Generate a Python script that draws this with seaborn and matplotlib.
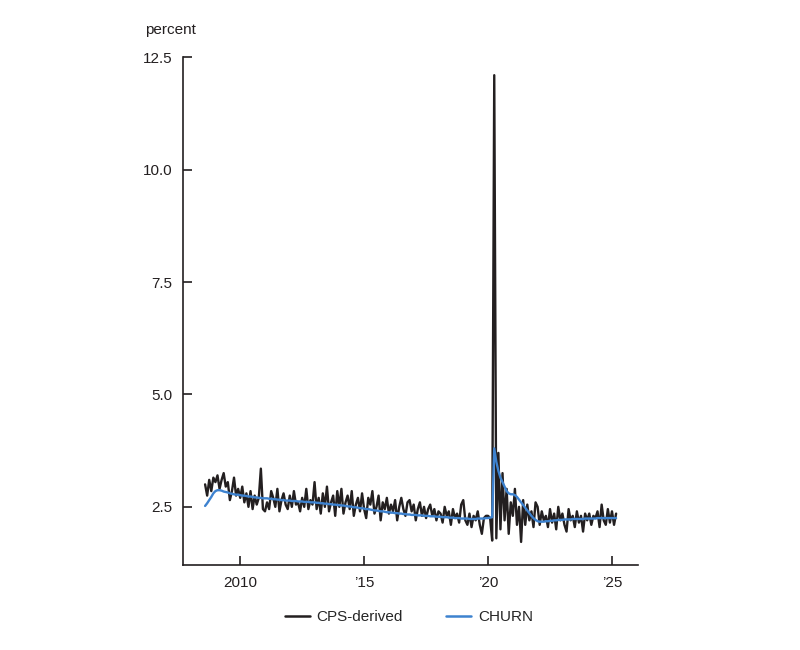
"""
Monthly separation rate: CPS-derived vs CHURN, 2008-2025.
"""

import matplotlib.pyplot as plt
import numpy as np
import pandas as pd
import seaborn as sns

# --- Data (monthly, Aug 2008 - Mar 2025) ---

START_YEAR, START_MONTH = 2008, 8

CPS_DERIVED = [
    # 2008 Aug-Dec
    3.0, 2.75, 3.1, 2.85, 3.15,
    # 2009
    3.05, 3.2, 2.9, 3.1, 3.25, 2.95, 3.05, 2.65, 2.85, 3.15, 2.75, 2.9,
    # 2010
    2.7, 2.95, 2.6, 2.8, 2.5, 2.85, 2.45, 2.75, 2.55, 2.7, 3.35, 2.45,
    # 2011
    2.4, 2.6, 2.45, 2.85, 2.7, 2.5, 2.9, 2.4, 2.65, 2.8, 2.55, 2.45,
    # 2012
    2.75, 2.5, 2.85, 2.55, 2.6, 2.4, 2.7, 2.5, 2.9, 2.45, 2.65, 2.55,
    # 2013
    3.05, 2.45, 2.7, 2.35, 2.8, 2.5, 2.95, 2.4, 2.6, 2.75, 2.3, 2.85,
    # 2014
    2.5, 2.9, 2.35, 2.6, 2.75, 2.45, 2.85, 2.3, 2.55, 2.7, 2.4, 2.8,
    # 2015
    2.45, 2.25, 2.7, 2.55, 2.85, 2.35, 2.5, 2.75, 2.2, 2.6, 2.45, 2.7,
    # 2016
    2.35, 2.55, 2.4, 2.65, 2.2, 2.5, 2.7, 2.45, 2.3, 2.6, 2.65, 2.4,
    # 2017
    2.55, 2.2, 2.45, 2.6, 2.3, 2.5, 2.25, 2.45, 2.55, 2.3, 2.45, 2.2,
    # 2018
    2.4, 2.35, 2.15, 2.5, 2.3, 2.4, 2.1, 2.45, 2.25, 2.35, 2.15, 2.55,
    # 2019
    2.65, 2.2, 2.1, 2.35, 2.05, 2.3, 2.2, 2.4, 2.1, 1.9, 2.25, 2.3,
    # 2020
    2.3, 2.25, 1.75, 12.1, 1.8, 3.7, 2.0, 3.25, 2.2, 2.9, 1.9, 2.6,
    # 2021
    2.3, 2.9, 2.1, 2.5, 1.72, 2.65, 2.1, 2.55, 2.2, 2.4, 2.05, 2.6,
    # 2022
    2.5, 2.1, 2.4, 2.2, 2.3, 2.05, 2.45, 2.15, 2.35, 2.0, 2.5, 2.2,
    # 2023
    2.35, 2.1, 1.95, 2.45, 2.2, 2.3, 2.05, 2.4, 2.15, 2.3, 1.95, 2.35,
    # 2024
    2.2, 2.35, 2.1, 2.3, 2.25, 2.4, 2.05, 2.55, 2.2, 2.1, 2.45, 2.15,
    # 2025 Jan-Mar
    2.4, 2.1, 2.35,
]

CHURN = [
    # 2008 Aug-Dec
    2.52, 2.58, 2.65, 2.72, 2.8,
    # 2009
    2.85, 2.87, 2.87, 2.86, 2.84, 2.83, 2.82, 2.8, 2.79, 2.78, 2.77, 2.77,
    # 2010
    2.76, 2.75, 2.75, 2.74, 2.73, 2.73, 2.72, 2.71, 2.71, 2.70, 2.70, 2.69,
    # 2011
    2.69, 2.69, 2.68, 2.68, 2.67, 2.67, 2.66, 2.66, 2.65, 2.65, 2.64, 2.64,
    # 2012
    2.64, 2.63, 2.63, 2.63, 2.62, 2.62, 2.62, 2.61, 2.61, 2.61, 2.60, 2.60,
    # 2013
    2.60, 2.59, 2.59, 2.58, 2.58, 2.57, 2.57, 2.56, 2.56, 2.55, 2.55, 2.54,
    # 2014
    2.54, 2.53, 2.53, 2.52, 2.51, 2.51, 2.50, 2.49, 2.49, 2.48, 2.47, 2.47,
    # 2015
    2.46, 2.45, 2.45, 2.44, 2.43, 2.42, 2.42, 2.41, 2.40, 2.40, 2.39, 2.38,
    # 2016
    2.38, 2.37, 2.37, 2.36, 2.36, 2.35, 2.35, 2.34, 2.34, 2.33, 2.33, 2.32,
    # 2017
    2.32, 2.32, 2.31, 2.31, 2.31, 2.30, 2.30, 2.30, 2.29, 2.29, 2.29, 2.28,
    # 2018
    2.28, 2.28, 2.27, 2.27, 2.27, 2.26, 2.26, 2.26, 2.25, 2.25, 2.25, 2.24,
    # 2019
    2.24, 2.24, 2.24, 2.23, 2.23, 2.23, 2.23, 2.24, 2.24, 2.24, 2.24, 2.25,
    # 2020
    2.25, 2.26, 2.27, 3.8, 3.5, 3.3, 3.15, 3.05, 2.95, 2.85, 2.8, 2.78,
    # 2021
    2.78, 2.76, 2.72, 2.66, 2.6, 2.54, 2.48, 2.42, 2.36, 2.3, 2.25, 2.21,
    # 2022
    2.18, 2.17, 2.17, 2.17, 2.18, 2.18, 2.19, 2.19, 2.2, 2.2, 2.21, 2.21,
    # 2023
    2.21, 2.22, 2.22, 2.22, 2.22, 2.23, 2.23, 2.23, 2.23, 2.23, 2.23, 2.24,
    # 2024
    2.24, 2.24, 2.24, 2.24, 2.24, 2.25, 2.25, 2.25, 2.25, 2.25, 2.25, 2.25,
    # 2025 Jan-Mar
    2.25, 2.25, 2.25,
]

SERIES_NAMES = ["CPS-derived", "CHURN"]
SERIES_COLORS = {"CPS-derived": "#231f20", "CHURN": "#3d82cf"}

Y_TICKS = [2.5, 5.0, 7.5, 10.0, 12.5]
X_TICKS = [2010, 2015, 2020, 2025]
X_TICK_LABELS = ["2010", "\u201915", "\u201920", "\u201925"]


def build_frame():
    """Long-format frame with decimal-year dates."""
    n = len(CPS_DERIVED)
    months = np.arange(n) + (START_MONTH - 1)
    year_frac = START_YEAR + months / 12.0
    rows = []
    for name, values in zip(SERIES_NAMES, [CPS_DERIVED, CHURN]):
        rows.append(pd.DataFrame({"date": year_frac, "value": values, "series": name}))
    return pd.concat(rows, ignore_index=True)


def main():
    sns.set_style("white")
    plt.rcParams["font.family"] = ["Liberation Sans", "DejaVu Sans"]

    df = build_frame()

    fig = plt.figure(figsize=(8, 6.5), dpi=100)
    ax = fig.add_axes([0.229, 0.131, 0.5685, 0.781])

    sns.lineplot(
        data=df,
        x="date",
        y="value",
        hue="series",
        hue_order=SERIES_NAMES,
        palette=SERIES_COLORS,
        linewidth=1.7,
        ax=ax,
        legend=False,
    )

    ax.set_xlim(2007.7, 2026.05)
    ax.set_ylim(1.21, 12.5)
    ax.set_yticks(Y_TICKS)
    ax.set_yticklabels([f"{v:.1f}" for v in Y_TICKS])
    ax.set_xticks(X_TICKS)
    ax.set_xticklabels(X_TICK_LABELS)
    ax.set_xlabel("")
    ax.set_ylabel("")

    for side in ["top", "right"]:
        ax.spines[side].set_visible(False)
    for side in ["left", "bottom"]:
        ax.spines[side].set_color("#231f20")
        ax.spines[side].set_linewidth(1.2)

    # seaborn's "white" style switches the tick marks off; turn them back on
    ax.tick_params(
        axis="both", which="major", bottom=True, left=True,
        direction="in", length=6.5, width=1.2,
        color="#231f20", labelsize=11, labelcolor="#231f20", pad=8,
    )

    fig.text(0.181, 0.954, "percent", fontsize=11, color="#231f20",
             ha="left", va="center")

    handles = [
        plt.Line2D([], [], color=SERIES_COLORS[name], linewidth=1.8)
        for name in SERIES_NAMES
    ]
    fig.legend(
        handles, SERIES_NAMES, loc="center", bbox_to_anchor=(0.511, 0.051),
        ncol=2, frameon=False, fontsize=11, handlelength=1.65,
        columnspacing=2.8, handletextpad=0.45,
    )

    fig.savefig("out.png", dpi=100)
    plt.close(fig)


if __name__ == "__main__":
    main()
